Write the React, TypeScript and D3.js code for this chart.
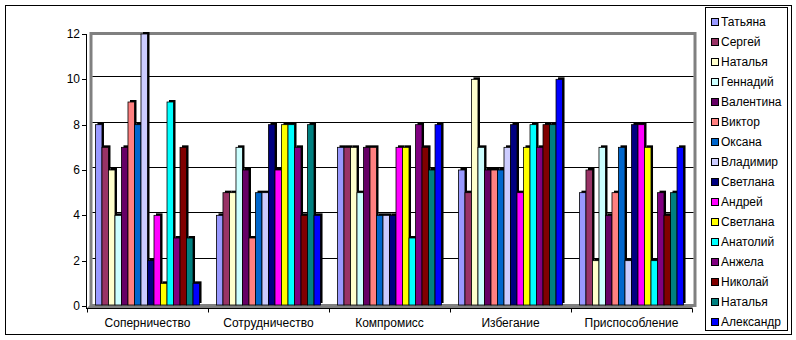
import React from "react";
import * as d3 from "d3";

const categories = ["Соперничество", "Сотрудничество", "Компромисс", "Избегание", "Приспособление"];
const seriesNames = ["Татьяна", "Сергей", "Наталья", "Геннадий", "Валентина", "Виктор", "Оксана", "Владимир", "Светлана", "Андрей", "Светлана", "Анатолий", "Анжела", "Николай", "Наталья", "Александр"];
const seriesColors = ["#9999FF", "#993366", "#FFFFCC", "#CCFFFF", "#660066", "#FF8080", "#0066CC", "#CCCCFF", "#000080", "#FF00FF", "#FFFF00", "#00FFFF", "#800080", "#800000", "#008080", "#0000FF"];
// values[series][category]
const tatyana = [8, 4, 7, 6, 5];
const sergey = [7, 5, 7, 5, 6];
const natalya1 = [6, 5, 7, 10, 2];
const gennady = [4, 7, 5, 7, 7];
const valentina = [7, 6, 7, 6, 4];
const viktor = [9, 3, 7, 6, 5];
const oksana = [8, 5, 4, 6, 7];
const vladimir = [12, 5, 4, 7, 2];
const svetlana1 = [2, 8, 4, 8, 8];
const andrey = [4, 6, 7, 5, 8];
const svetlana2 = [1, 8, 7, 7, 7];
const anatoly = [9, 8, 3, 8, 2];
const anzhela = [3, 7, 8, 7, 5];
const nikolay = [7, 4, 7, 8, 4];
const natalya2 = [3, 8, 6, 8, 5];
const aleksandr = [1, 4, 8, 10, 7];
const seriesValues = [tatyana, sergey, natalya1, gennady, valentina, viktor, oksana, vladimir, svetlana1, andrey, svetlana2, anatoly, anzhela, nikolay, natalya2, aleksandr];
const yTicks = [0, 2, 4, 6, 8, 10, 12];

const FONT = "'Liberation Sans', Arial, sans-serif";

export default function App() {
  const x0 = d3.scaleBand<string>().domain(categories).range([87, 692]).paddingInner(0.14).paddingOuter(0.07);
  const x1 = d3.scaleBand<number>().domain(d3.range(seriesNames.length)).range([0, x0.bandwidth()]);
  const y = d3.scaleLinear().domain([0, 12]).range([306, 34]);
  const depth = 3;
  const barBottom = y(0) - 1;

  return (
    <svg width={796} height={340} style={{ position: "absolute", left: 0, top: 0, fontFamily: FONT }}>
      <rect x={0} y={0} width={796} height={340} fill="#fff" />
      <rect x={5.5} y={5.5} width={786} height={329} fill="#fff" stroke="#000" strokeWidth={1} />
      {/* floor */}
      <polygon points={`87,308 692,308 ${692 + depth},${308 - depth} ${87 + depth},${308 - depth}`} fill="#808080" />
      {/* wall border */}
      <rect x={91} y={y(12) - 0.5} width={604} height={306 - y(12)} fill="none" stroke="#808080" strokeWidth={3} />
      {/* gridlines */}
      {yTicks.filter((t) => t > 0 && t < 12).map((t) => (
        <line key={t} x1={92.5} x2={693.5} y1={Math.round(y(t) - depth) + 0.5} y2={Math.round(y(t) - depth) + 0.5} stroke="#000" strokeWidth={1} />
      ))}
      {/* bars */}
      {categories.map((c, ci) => (
        <g key={c}>
          {seriesNames.map((s, si) => {
            const v = seriesValues[si][ci];
            const bx = (x0(c) as number) + (x1(si) as number);
            const w = x1.bandwidth();
            const top = y(v);
            const h = barBottom - top;
            return (
              <g key={si}>
                <rect x={bx + 2} y={top - 2} width={w} height={h} fill="#000" />
                <rect x={bx} y={top} width={w} height={h} fill={seriesColors[si]} stroke="#000" strokeWidth={0.8} />
              </g>
            );
          })}
        </g>
      ))}
      {/* y axis */}
      <line x1={86.5} x2={86.5} y1={y(12)} y2={308.5} stroke="#000" />
      {yTicks.map((t) => (
        <g key={t}>
          <line x1={82} x2={86.5} y1={Math.round(y(t)) + 0.5} y2={Math.round(y(t)) + 0.5} stroke="#000" />
          <text x={80} y={y(t)} textAnchor="end" dominantBaseline="central" fontSize={12} fill="#000">{t}</text>
        </g>
      ))}
      {/* x axis */}
      <line x1={86} x2={692.5} y1={308.5} y2={308.5} stroke="#000" />
      {d3.range(categories.length + 1).map((i) => {
        const tx = Math.round(87 + i * x0.step()) + 0.5;
        return <line key={i} x1={tx} x2={tx} y1={308.5} y2={312.5} stroke="#000" />;
      })}
      {categories.map((c) => (
        <text key={c} x={(x0(c) as number) + x0.bandwidth() / 2} y={323} textAnchor="middle" dominantBaseline="central" fontSize={12} fill="#000">{c}</text>
      ))}
      {/* legend */}
      <rect x={705.5} y={7.5} width={82} height={323} fill="#fff" stroke="#000" strokeWidth={1} />
      {seriesNames.map((s, i) => (
        <g key={i}>
          <rect x={711.5} y={22 + i * 20 - 3.5} width={7} height={7} fill={seriesColors[i]} stroke="#000" strokeWidth={1} />
          <text x={721} y={22 + i * 20} dominantBaseline="central" fontSize={12} fill="#000">{s}</text>
        </g>
      ))}
    </svg>
  );
}
